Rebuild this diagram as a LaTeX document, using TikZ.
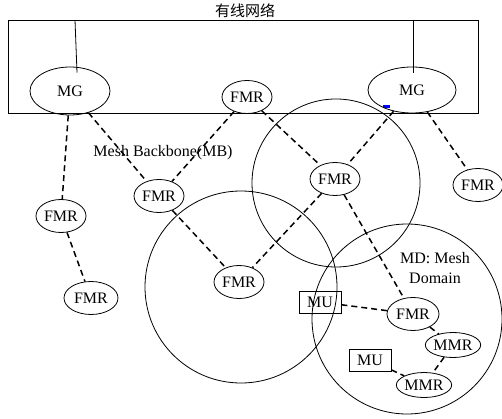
\documentclass[tikz,border=0pt]{standalone}
\usepackage{fontspec}
\setmainfont{Liberation Serif}
\newfontfamily\cjk{Noto Sans CJK SC}
\usetikzlibrary{shapes, positioning}

\begin{document}
\begin{tikzpicture}[x=1pt, y=-1pt, font=\fontsize{16}{20}\selectfont,
  every node/.style={inner sep=0pt},
  fmr/.style={draw, ellipse, line width=0.8pt, minimum width=50pt, minimum height=33pt},
  mg/.style={draw, ellipse, line width=0.8pt, minimum width=80pt, minimum height=48pt},
  mmr/.style={draw, ellipse, line width=0.8pt, minimum width=52pt, minimum height=25pt},
  mu/.style={draw, rectangle, line width=0.8pt, minimum width=42pt, minimum height=22pt},
  link/.style={line width=1.5pt, dash pattern=on 6pt off 4pt}]
          \useasboundingbox (0,0) rectangle (502,419);

          \draw[line width=0.8pt] (336,183) circle (84);
          \draw[line width=0.8pt] (241,287) circle (96);
          \draw[line width=0.8pt] (407,319) circle (95);

          \node (title) at (245,11) {\cjk\fontsize{15}{18}\selectfont 有线网络};
          \node[draw, line width=0.8pt, minimum width=470pt, minimum height=93pt] (wired) at (243,66.5) {};
          \fill[blue] (383,105) rectangle (390,108);

          \node[mg] (mg1) at (70,91) {MG};
          \node[mg, minimum width=88pt, minimum height=46pt] (mg2) at (412,90) {MG};
          \node[fmr] (fmr1) at (247,97) {FMR};
          \node[fmr] (fmr2) at (159,196) {FMR};
          \node[fmr] (fmr3) at (61,216) {FMR};
          \node[fmr, minimum width=54pt] (fmr4) at (91,298) {FMR};
          \node[fmr] (fmr5) at (239,282) {FMR};
          \node[fmr] (fmr6) at (335,179) {FMR};
          \node[fmr] (fmr7) at (478,185) {FMR};
          \node[fmr, minimum width=52pt] (fmr8) at (413,314) {FMR};
          \node[mmr] (mmr1) at (453,345) {MMR};
          \node[mmr] (mmr2) at (424,385) {MMR};
          \node[mu] (mu1) at (320,302) {MU};
          \node[mu] (mu2) at (370,360) {MU};

          \node (mb) at (163,153) {Mesh Backbone(MB)};
          \node[align=center] (md) at (435,268) {MD: Mesh\\Domain};

          \coordinate (w1) at (75,20);
          \coordinate (w2) at (413,20);
          \draw[line width=0.8pt] (w1) -- ([xshift=7pt, yshift=-6pt]mg1.north);
          \draw[line width=0.8pt] (w2) -- ([xshift=1pt, yshift=-6pt]mg2.north);

          \draw[link] (mg1) -- (fmr3);
          \draw[link] (mg1) -- (fmr2);
          \draw[link] (fmr1) -- (fmr2);
          \draw[link] (fmr1) -- (fmr6);
          \draw[link] (mg2) -- (fmr6);
          \draw[link] (mg2) -- (fmr7);
          \draw[link] (fmr3) -- (fmr4);
          \draw[link] (fmr2) -- (fmr5);
          \draw[link] (fmr6) -- (fmr5);
          \draw[link] (fmr6) -- (fmr8);
          \draw[link] (mu1) -- (fmr8);
          \draw[link] (fmr8) -- (mmr1);
          \draw[link] (mmr1) -- (mmr2);
          \draw[link] (mu2) -- (mmr2);
        \end{tikzpicture}
\end{document}
